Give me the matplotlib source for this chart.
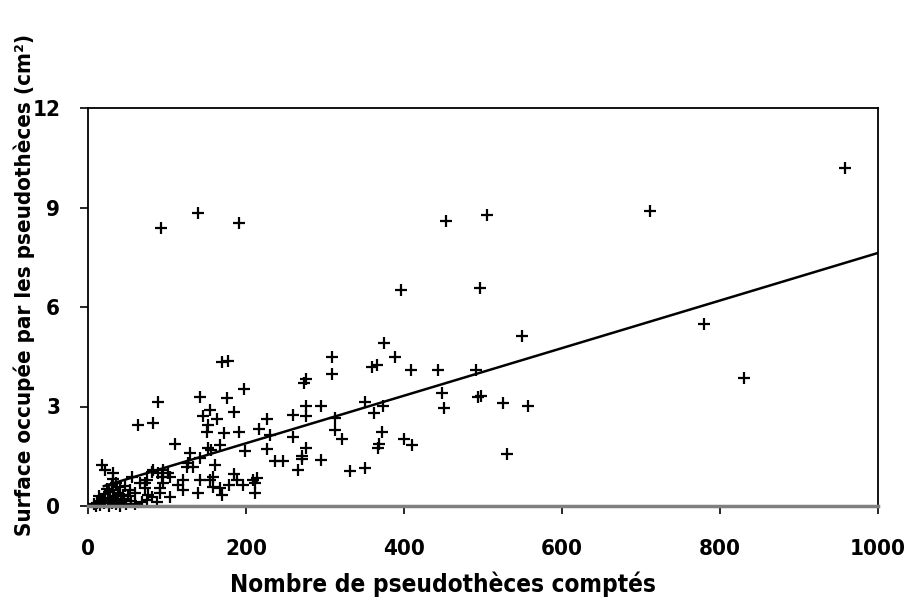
import numpy as np
import matplotlib
matplotlib.use("Agg")
from matplotlib import pyplot as plt

# Data
# isolated high values
x_high = [958, 711, 780, 830, 92, 139, 191, 453, 505, 396, 496, 549]
y_high = [10.2, 8.9, 5.49, 3.86, 8.38, 8.83, 8.53, 8.6, 8.76, 6.51, 6.57, 5.13]

# middle cloud
x_mid = [375, 388, 359, 366, 409, 443, 491, 309, 309, 448, 451, 494, 497, 525,
         557, 531, 351, 362, 373, 313, 313, 322, 372, 368, 367, 400, 410, 332,
         351, 170, 177, 276, 273, 198, 142, 176, 185, 154, 145, 163, 152, 151,
         172, 191, 216, 227, 260, 276, 276, 295, 260, 230, 227, 276, 199, 167,
         152, 237, 247, 271, 271, 295, 266, 161, 185, 158, 129, 125, 214, 196,
         211, 211]
y_mid = [4.91, 4.49, 4.19, 4.25, 4.10, 4.10, 4.10, 4.49, 3.98, 3.41, 2.95, 3.29,
         3.32, 3.10, 3.01, 1.57, 3.14, 2.80, 3.01, 2.65, 2.29, 2.02, 2.23, 1.87,
         1.75, 2.02, 1.84, 1.06, 1.15, 4.34, 4.37, 3.83, 3.71, 3.53, 3.29, 3.26,
         2.83, 2.89, 2.71, 2.62, 2.44, 2.23, 2.20, 2.23, 2.32, 2.62, 2.74, 3.01,
         2.71, 3.01, 2.08, 2.14, 1.72, 1.75, 1.66, 1.84, 1.75, 1.36, 1.36, 1.42,
         1.51, 1.39, 1.09, 1.24, 0.96, 0.87, 1.60, 1.18, 0.84, 0.63, 0.69, 0.39]

# low counts, near the origin
x_low = [89, 82, 63, 110, 156, 142, 127, 133, 82, 95, 104, 120, 142, 154, 158,
         189, 167, 178, 170, 139, 120, 114, 104, 209, 75, 72, 81, 75, 91, 95,
         18, 32, 32, 56, 66, 72, 81, 89, 94, 101, 32, 40, 44, 53, 59, 76, 68,
         87, 91,
         8, 12, 15, 18, 20, 22, 25, 26, 28, 30, 33, 35, 36, 38, 42, 45, 48, 50,
         14, 24, 30, 17, 10, 40, 55, 60, 27, 47, 21, 36]
y_low = [3.14, 2.50, 2.44, 1.87, 1.69, 1.45, 1.30, 1.18, 1.09, 1.09, 0.87, 0.78,
         0.78, 0.78, 0.57, 0.78, 0.54, 0.63, 0.33, 0.39, 0.48, 0.63, 0.27, 0.78,
         0.78, 0.54, 0.27, 0.18, 0.54, 0.69,
         1.24, 1.00, 0.81, 0.87, 0.69, 0.69, 1.02, 1.00, 0.87, 1.00, 0.48, 0.57,
         0.33, 0.48, 0.39, 0.33, 0.12, 0.12, 0.39,
         0.05, 0.10, 0.02, 0.20, 0.08, 0.35, 0.15, 0.00, 0.25, 0.10, 0.30, 0.05,
         0.18, 0.40, 0.12, 0.22, 0.05, 0.30, 0.30, 0.50, 0.62, 0.12, 0.00, 0.00,
         0.15, 0.05, 0.42, 0.60, 1.10, 0.70]

# trend line end points
trend_x = [20, 1000]
trend_y = [0.60, 7.63]

x_ticks = [0, 200, 400, 600, 800, 1000]
y_ticks = [0, 3, 6, 9, 12]

x_label = "Nombre de pseudothèces comptés"
y_label = "Surface occupée par les pseudothèces (cm²)"

# condensed bold look, like Arial Narrow in the original
plt.rcParams["font.family"] = ["DejaVu Sans"]
plt.rcParams["font.stretch"] = "condensed"
plt.rcParams["font.weight"] = "bold"

fig = plt.figure(figsize=(9.06, 6.07), dpi=100)
ax = fig.add_axes([88 / 906, 1 - 506 / 607, 790 / 906, 398 / 607])

xs = np.array(x_high + x_mid + x_low)
ys = np.array(y_high + y_mid + y_low)
ax.plot(xs, ys, linestyle="none", marker="+", markersize=9,
        markeredgewidth=1.6, color="black", clip_on=False)
ax.plot(trend_x, trend_y, color="black", linewidth=1.8)

ax.set_xlim(0, 1000)
ax.set_ylim(0, 12)
ax.set_xticks(x_ticks)
ax.set_yticks(y_ticks)
ax.tick_params(axis="both", direction="out", length=6, width=1.2, labelsize=16)
ax.tick_params(axis="x", pad=18)
ax.tick_params(axis="y", pad=14)
for lab in ax.get_xticklabels() + ax.get_yticklabels():
    lab.set_fontweight("bold")

for side in ["top", "right", "left"]:
    ax.spines[side].set_color("black")
    ax.spines[side].set_linewidth(1.3)
ax.spines["bottom"].set_color("#7f7f7f")
ax.spines["bottom"].set_linewidth(2.5)

fig.text(443 / 906, 1 - 584 / 607, x_label, ha="center", va="center",
         fontsize=17.5, fontweight="bold")
fig.text(24 / 906, 1 - 285 / 607, y_label, ha="center", va="center",
         rotation=90, fontsize=16, fontweight="bold")

plt.savefig("out.png", dpi=100)
plt.close()
